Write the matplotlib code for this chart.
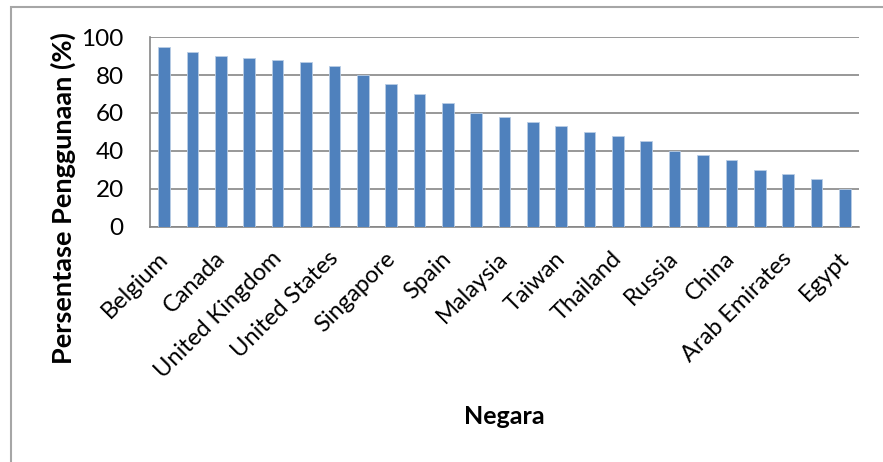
import numpy as np
import matplotlib.pyplot as plt
import matplotlib.transforms as mtransforms
from matplotlib.patches import Rectangle

# negara (only every other name is printed on the axis)
negara = ["Belgium", "", "Canada", "", "United Kingdom", "", "United States", "",
          "Singapore", "", "Spain", "", "Malaysia", "", "Taiwan", "", "Thailand", "",
          "Russia", "", "China", "", "Arab Emirates", "", "Egypt"]
persen = [95, 92, 90, 89, 88, 87, 85, 80, 75, 70, 65, 60, 58, 55, 53, 50, 48, 45,
          40, 38, 35, 30, 28, 25, 20]
yticks = [0, 20, 40, 60, 80, 100]

plt.rcParams['font.family'] = ['Lato', 'DejaVu Sans']

fig = plt.figure(figsize=(8.83, 4.62), dpi=100)
ax = fig.add_axes([0.1699, 0.5087, 0.8029, 0.4112])

# chart border
fig.patches.append(Rectangle((11 / 883, -0.05), 1.0, 1 - 7 / 462 + 0.05, transform=fig.transFigure,
                             fill=False, edgecolor='#a6a6a6', linewidth=1.5))

x = np.arange(len(persen))
ax.bar(x, persen, width=0.41, color='#4f81bd', edgecolor='#b9cde5', linewidth=0.6, zorder=3)

ax.set_xlim(-0.5, len(persen) - 0.5)
ax.set_ylim(0, 100)
ax.set_yticks(yticks)
ax.set_yticklabels([str(v) for v in yticks], fontsize=17.5)
ax.yaxis.grid(True, color='#868686', linewidth=1.2, zorder=0)

ax.set_xticks(x)
ax.set_xticklabels(negara, fontsize=17, rotation=45, ha='right', va='top', rotation_mode='anchor')
ax.tick_params(axis='x', length=0, pad=15)
ax.tick_params(axis='y', length=0, pad=19)
# nudge the slanted labels a little to the left
shift = mtransforms.ScaledTranslation(-7 / 100, 0, fig.dpi_scale_trans)
for lbl in ax.get_xticklabels():
    lbl.set_transform(lbl.get_transform() + shift)

for s in ['top', 'right']:
    ax.spines[s].set_visible(False)
ax.spines['left'].set_color('#868686')
ax.spines['bottom'].set_color('#868686')
ax.spines['left'].set_linewidth(1.2)
ax.spines['bottom'].set_linewidth(1.2)

fig.text(63 / 883, 1 - 198 / 462, "Persentase Penggunaan (%)", rotation=90, fontsize=19.5,
         fontweight='bold', ha='center', va='center')
fig.text(504 / 883, 1 - 417 / 462, "Negara", fontsize=18, fontweight='bold', ha='center', va='center')

fig.savefig("out.png", dpi=100)
